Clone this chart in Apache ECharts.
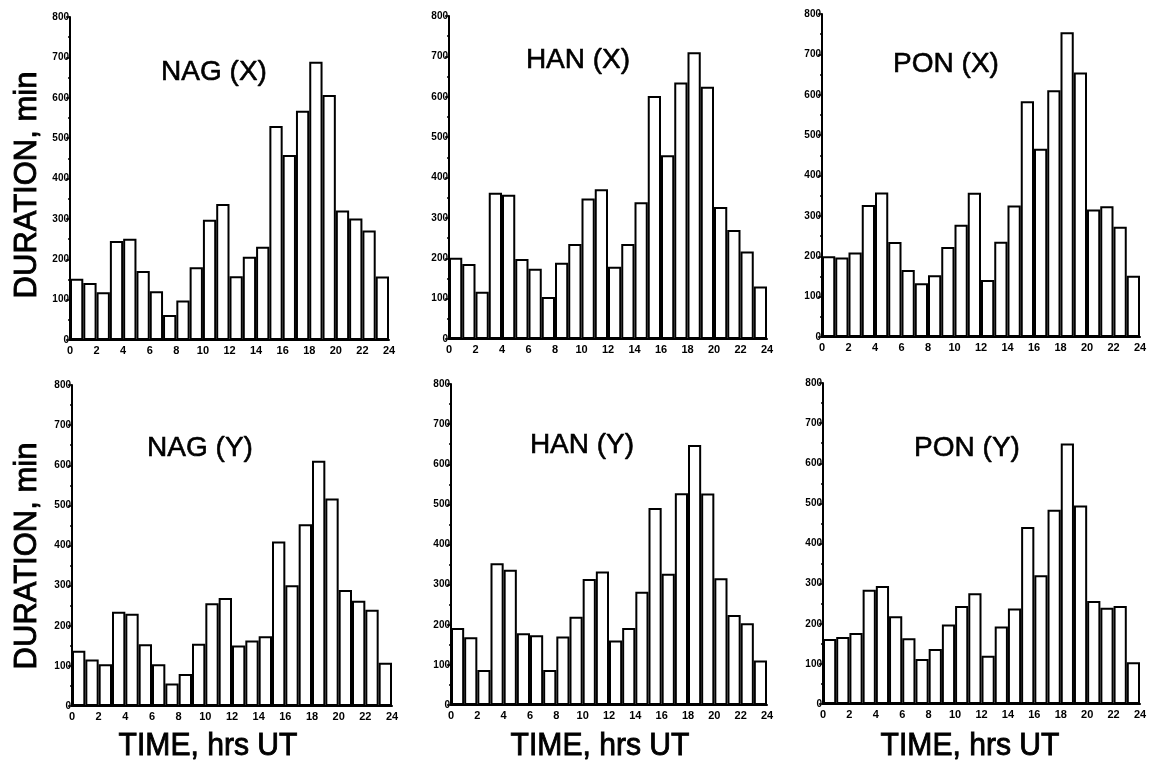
<!DOCTYPE html>
<html>
<head>
<meta charset="utf-8">
<script src="https://cdn.jsdelivr.net/npm/echarts@6/dist/echarts.min.js"></script>
<style>
html,body{margin:0;padding:0;background:#fff;}
#chart{width:1151px;height:766px;}
</style>
</head>
<body>
<div id="chart"></div>
<script>
// ---- data ----
const hours = ['0','1','2','3','4','5','6','7','8','9','10','11','12','13','14','15','16','17','18','19','20','21','22','23'];
const nagX = [152,141,118,245,251,171,121,62,98,180,298,337,158,206,231,530,458,568,689,607,321,301,271,157];
const hanX = [201,186,117,362,357,198,174,104,189,235,348,371,179,235,339,602,455,635,710,625,327,270,217,130];
const ponX = [200,197,209,327,358,235,166,133,153,223,278,357,141,236,326,584,466,611,755,655,316,324,273,152];
const nagY = [138,116,104,235,230,154,104,56,80,155,256,269,151,163,174,410,301,453,611,517,289,262,240,108];
const hanY = [192,169,87,353,337,179,174,87,171,220,314,333,161,192,282,491,327,528,648,527,316,224,204,111];
const ponY = [162,167,177,285,294,219,164,112,137,198,244,276,120,193,238,441,321,484,649,495,257,240,244,104];
const panelTitles = ['NAG (X)','HAN (X)','PON (X)','NAG (Y)','HAN (Y)','PON (Y)'];
const panelData = [nagX, hanX, ponX, nagY, hanY, ponY];
const yMin = 0, yMax = 800, yStep = 100;
const xMin = 0, xMax = 24, xStep = 2;
const yAxisName = 'DURATION, min';
const xAxisName = 'TIME, hrs UT';

// ---- layout (pixels) ----
const grids = [
  {left:70,  top:17,  width:319, height:323},
  {left:449, top:16,  width:318, height:323},
  {left:822, top:14,  width:318, height:323},
  {left:72,  top:385, width:320, height:321},
  {left:451, top:384, width:316, height:321},
  {left:823, top:383, width:317, height:321}
];
const titlePos = [[214,72],[578,60],[946,64],[200,448],[582,445],[967,448]];
const xNamePos = [[208,746],[600,746],[970,746]];
const yNamePos = [[27,185],[27,556]];

const sans = "'Liberation Sans',Arial,Helvetica,sans-serif";

const option = {
  animation:false,
  backgroundColor:'#fff',
  grid: grids.map(g => Object.assign({containLabel:false}, g)),
  xAxis: [],
  yAxis: [],
  series: [],
  graphic: []
};

grids.forEach((g, i) => {
  option.xAxis.push({
    type:'category', gridIndex:i, data:hours, show:false, boundaryGap:true, position:'bottom'
  });
  option.xAxis.push({
    type:'value', gridIndex:i, min:xMin, max:xMax, interval:xStep, position:'bottom',
    axisLine:{show:true, onZero:false, lineStyle:{color:'#000', width:2}},
    axisTick:{show:false},
    splitLine:{show:false},
    axisLabel:{color:'#000', fontFamily:sans, fontWeight:'bold', fontSize:11, margin:5}
  });
  option.yAxis.push({
    type:'value', gridIndex:i, min:yMin, max:yMax, interval:yStep,
    axisLine:{show:true, lineStyle:{color:'#000', width:2}},
    axisTick:{show:true, inside:false, length:4, lineStyle:{color:'#000', width:1.5}},
    minorTick:{show:true, splitNumber:2, length:2, lineStyle:{color:'#000', width:1.5}},
    splitLine:{show:false},
    axisLabel:{color:'#000', fontFamily:sans, fontWeight:'bold', fontSize:10, margin:1}
  });
  option.series.push({
    type:'bar', xAxisIndex:i*2, yAxisIndex:i, data:panelData[i],
    barCategoryGap:'0%',
    itemStyle:{color:'#fff', borderColor:'#000', borderWidth:2},
    silent:true
  });
  option.graphic.push({
    type:'text', x:titlePos[i][0], y:titlePos[i][1],
    style:{text:panelTitles[i], fill:'#000', stroke:'#000', lineWidth:0.6,
           font:'28px ' + sans, textAlign:'center', textVerticalAlign:'middle'}
  });
});
xNamePos.forEach(p => option.graphic.push({
  type:'text', x:p[0], y:p[1], scaleX:0.94,
  style:{text:xAxisName, fill:'#000', stroke:'#000', lineWidth:0.9,
         font:'32px ' + sans, textAlign:'center', textVerticalAlign:'middle'}
}));
yNamePos.forEach(p => option.graphic.push({
  type:'text', x:p[0], y:p[1], rotation:Math.PI/2,
  style:{text:yAxisName, fill:'#000', stroke:'#000', lineWidth:0.9,
         font:'31px ' + sans, textAlign:'center', textVerticalAlign:'middle'}
}));

const chart = echarts.init(document.getElementById('chart'), null, {renderer:'canvas'});
chart.setOption(option);
</script>
</body>
</html>
